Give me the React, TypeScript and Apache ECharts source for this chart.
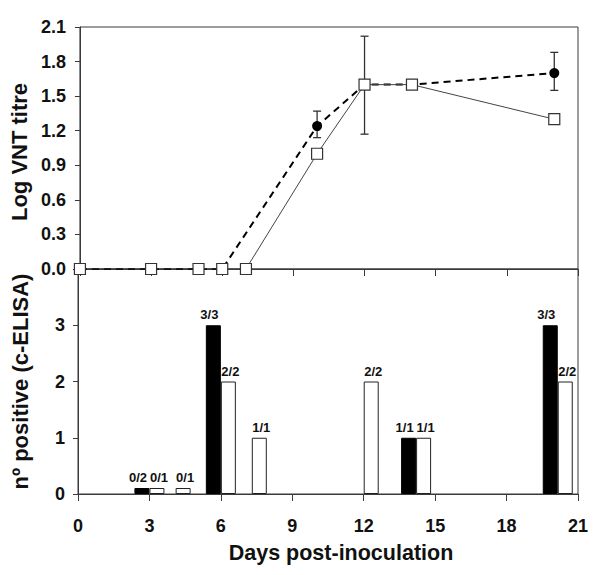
import React, { useEffect, useRef } from 'react';
import * as echarts from 'echarts';

// ---- data ----
const sqDays = [0, 3, 5, 6, 7, 10, 12, 14, 20];
const sqVals = [0, 0, 0, 0, 0, 1.0, 1.6, 1.6, 1.3];
const ciDays = [0, 3, 5, 6, 10, 12, 14, 20];
const ciVals = [0, 0, 0, 0, 1.24, 1.6, 1.6, 1.7];
const errDays = [10, 12, 20];
const errLow = [1.14, 1.17, 1.55];
const errHigh = [1.37, 2.02, 1.88];

const blackDays = [3, 6, 14.2, 20.15];
const blackVals = [0, 3, 1, 3];
const blackLabels = ['0/2', '3/3', '1/1', '3/3'];
const whiteDays = [3, 4.1, 6, 7.3, 12, 14.2, 20.15];
const whiteVals = [0, 0, 2, 1, 2, 1, 2];
const whiteLabels = ['0/1', '0/1', '2/2', '1/1', '2/2', '1/1', '2/2'];

const FONT = '"Liberation Sans", Arial, Helvetica, sans-serif';
const AXIS = '#3a3a3a';
const TXT = '#111';

export default function App() {
  const ref = useRef<HTMLDivElement>(null);
  useEffect(() => {
    if (!ref.current) return;
    const chart = echarts.init(ref.current, undefined, { renderer: 'svg' });
    const tickLabel = { fontSize: 18, fontWeight: 'bold' as const, color: TXT, fontFamily: FONT };
    const nameStyle = { fontSize: 22, fontWeight: 'bold' as const, color: TXT, fontFamily: FONT };
    const barLabel = {
      show: true,
      position: 'top' as const,
      distance: 4,
      fontSize: 13,
      fontWeight: 'bold' as const,
      color: TXT,
      fontFamily: FONT,
    };
    chart.setOption({
      animation: false,
      backgroundColor: '#fff',
      textStyle: { fontFamily: FONT },
      grid: [
        { left: 78, top: 27, width: 500, height: 242, show: true, borderColor: AXIS, borderWidth: 1, backgroundColor: 'transparent' },
        { left: 78, top: 269, width: 500, height: 225, show: true, borderColor: AXIS, borderWidth: 1, backgroundColor: 'transparent' },
      ],
      xAxis: [
        {
          gridIndex: 0, type: 'value', min: 0, max: 21, interval: 3,
          axisLine: { show: true, lineStyle: { color: AXIS } },
          axisTick: { show: true, inside: false, length: 7, lineStyle: { color: AXIS } },
          axisLabel: { show: false },
          splitLine: { show: false },
        },
        {
          gridIndex: 1, type: 'value', min: 0, max: 21, interval: 3,
          axisLine: { show: true, lineStyle: { color: AXIS } },
          axisTick: { show: true, inside: false, length: 7, lineStyle: { color: AXIS } },
          axisLabel: { ...tickLabel, margin: 23 },
          splitLine: { show: false },
          name: 'Days post-inoculation', nameLocation: 'middle', nameGap: 48,
          nameTextStyle: { ...nameStyle, fontSize: 21.5, padding: [0, 0, 0, 26] },
        },
      ],
      yAxis: [
        {
          gridIndex: 0, type: 'value', min: 0, max: 2.1, interval: 0.3,
          axisLine: { show: true, lineStyle: { color: AXIS } },
          axisTick: { show: true, inside: false, length: 5, lineStyle: { color: AXIS } },
          axisLabel: { ...tickLabel, margin: 14, formatter: (v: number) => v.toFixed(1) },
          splitLine: { show: false },
          name: 'Log VNT titre', nameLocation: 'middle', nameGap: 47, nameRotate: 90,
          nameTextStyle: { ...nameStyle, padding: [0, 8, 0, 0] },
        },
        {
          gridIndex: 1, type: 'value', min: 0, max: 4, interval: 1,
          axisLine: { show: true, lineStyle: { color: AXIS } },
          axisTick: { show: true, inside: false, length: 5, lineStyle: { color: AXIS } },
          axisLabel: { ...tickLabel, margin: 13, formatter: (v: number) => (v === 4 ? '' : String(v)) },
          splitLine: { show: false },
          name: 'nº positive (c-ELISA)', nameLocation: 'middle', nameGap: 47, nameRotate: 90,
          nameTextStyle: nameStyle,
        },
      ],
      series: [
        {
          type: 'custom',
          xAxisIndex: 0, yAxisIndex: 0,
          z: 1,
          encode: { x: 0, y: [1, 2] },
          data: errDays.map((d, i) => [d, errLow[i], errHigh[i]]),
          renderItem: (params: any, api: any) => {
            const x = api.value(0);
            const lo = api.coord([x, api.value(1)]);
            const hi = api.coord([x, api.value(2)]);
            const cap = 4;
            const style = { stroke: '#333', lineWidth: 1.3, fill: 'none' };
            return {
              type: 'group',
              children: [
                { type: 'line', shape: { x1: hi[0], y1: hi[1], x2: lo[0], y2: lo[1] }, style },
                { type: 'line', shape: { x1: hi[0] - cap, y1: hi[1], x2: hi[0] + cap, y2: hi[1] }, style },
                { type: 'line', shape: { x1: lo[0] - cap, y1: lo[1], x2: lo[0] + cap, y2: lo[1] }, style },
              ],
            };
          },
        },
        {
          type: 'line',
          xAxisIndex: 0, yAxisIndex: 0,
          z: 2,
          data: ciDays.map((d, i) => [d, ciVals[i]]),
          symbol: 'circle', symbolSize: 10,
          itemStyle: { color: '#000' },
          lineStyle: { color: '#000', width: 2, type: [7, 5] },
        },
        {
          type: 'line',
          xAxisIndex: 0, yAxisIndex: 0,
          z: 3,
          data: sqDays.map((d, i) => [d, sqVals[i]]),
          symbol: 'rect', symbolSize: 11,
          itemStyle: { color: '#fff', borderColor: '#333', borderWidth: 1.2 },
          lineStyle: { color: '#444', width: 1 },
        },
        {
          type: 'bar',
          xAxisIndex: 1, yAxisIndex: 1,
          data: blackDays.map((d, i) => [d, blackVals[i]]),
          barWidth: 15, barGap: '0%', barMinHeight: 6,
          itemStyle: { color: '#000', borderColor: '#000', borderWidth: 1 },
          label: { ...barLabel, offset: [-4, 0], formatter: (p: any) => blackLabels[p.dataIndex] },
        },
        {
          type: 'bar',
          xAxisIndex: 1, yAxisIndex: 1,
          data: whiteDays.map((d, i) => [d, whiteVals[i]]),
          barWidth: 15, barGap: '0%', barMinHeight: 6,
          itemStyle: { color: '#fff', borderColor: '#222', borderWidth: 1 },
          label: { ...barLabel, offset: [2, 0], formatter: (p: any) => whiteLabels[p.dataIndex] },
        },
      ],
    });
    return () => chart.dispose();
  }, []);
  return <div ref={ref} style={{ position: 'absolute', left: 0, top: 0, width: 600, height: 575 }} />;
}
